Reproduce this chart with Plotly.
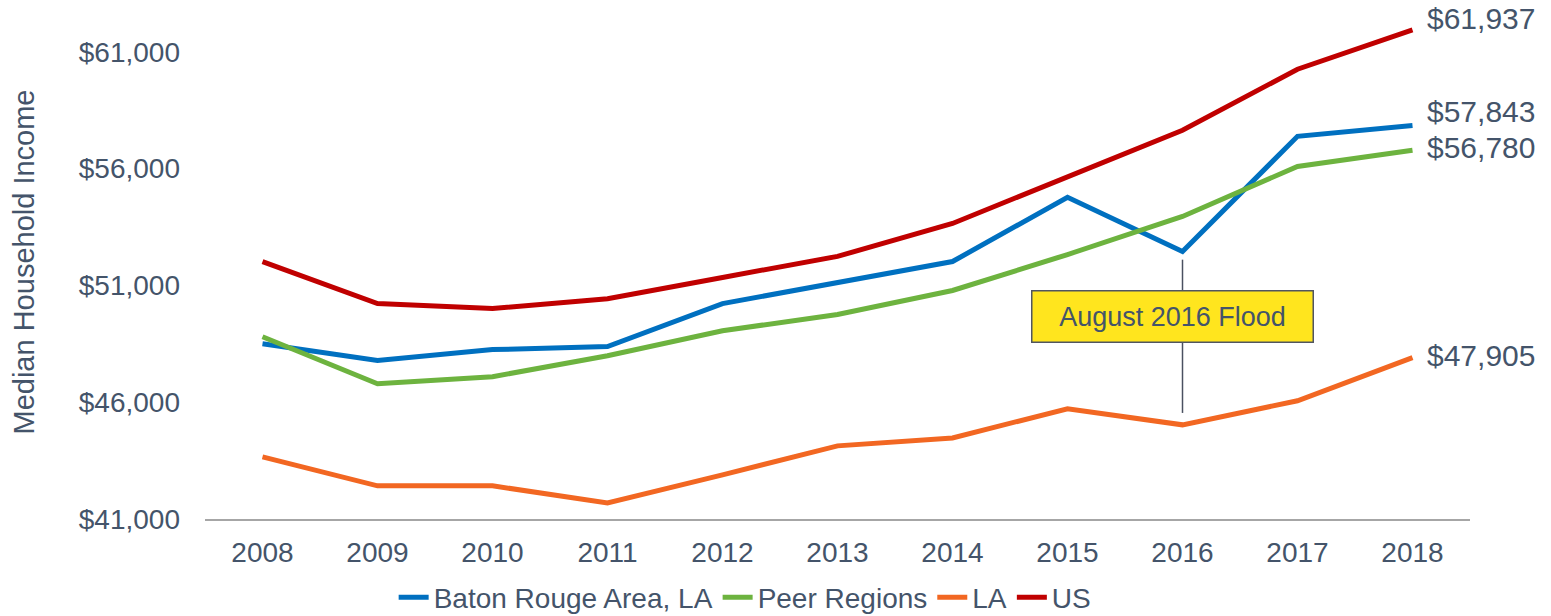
import plotly.graph_objects as go

years = ["2008", "2009", "2010", "2011", "2012", "2013", "2014", "2015", "2016", "2017", "2018"]
baton_rouge = [48500, 47780, 48250, 48380, 50220, 51120, 52020, 54770, 52450, 57380, 57843]
peer_regions = [48800, 46790, 47090, 47990, 49060, 49750, 50780, 52320, 53950, 56090, 56780]
louisiana = [43660, 42420, 42420, 41690, 42890, 44130, 44470, 45720, 45030, 46060, 47905]
us = [52020, 50220, 50010, 50430, 51340, 52240, 53650, 55670, 57640, 60250, 61937]

series_names = ["Baton Rouge Area, LA", "Peer Regions", "LA", "US"]
series_values = [baton_rouge, peer_regions, louisiana, us]
colors = ["#0070C0", "#6DB33F", "#F26722", "#C00000"]
end_label_yshift = [14, 3, 2, 11]

y_tick_vals = [41000, 46000, 51000, 56000, 61000]
y_tick_text = ["$41,000", "$46,000", "$51,000", "$56,000", "$61,000"]

flood_year = "2016"
flood_text = "August 2016 Flood"

TEXT = "#44546A"
FONT = "Liberation Sans, Arial, sans-serif"

last_idx = len(years) - 1
flood_idx = years.index(flood_year)

fig = go.Figure()
for name, vals, c in zip(series_names, series_values, colors):
    fig.add_trace(go.Scatter(x=years, y=vals, mode="lines", name=name,
                             line=dict(color=c, width=5), cliponaxis=False))

# end labels
for vals, ys in zip(series_values, end_label_yshift):
    fig.add_annotation(x=last_idx, y=vals[-1], text="${:,}".format(vals[-1]),
                       showarrow=False, xanchor="left", yanchor="middle",
                       xshift=12, yshift=ys,
                       font=dict(size=30, color=TEXT, family=FONT))

# flood marker line
fig.add_shape(type="line", x0=flood_idx, x1=flood_idx, y0=52100, y1=45540,
              xref="x", yref="y", line=dict(color="#4A5060", width=1.5))
fig.add_annotation(x=flood_idx, y=49650, text=flood_text, showarrow=False,
                   xshift=-10, bgcolor="#FFE51E", bordercolor="#505560",
                   borderwidth=1.5, borderpad=4, width=272, height=42,
                   align="center", valign="middle",
                   font=dict(size=27, color=TEXT, family=FONT))

fig.update_layout(
    width=1551, height=616,
    margin=dict(l=205, r=81, t=5, b=97, autoexpand=False),
    paper_bgcolor="white", plot_bgcolor="white",
    font=dict(family=FONT, color=TEXT, size=28),
    showlegend=True,
    legend=dict(orientation="h", x=0.427, xanchor="center", y=-0.104, yanchor="top",
                font=dict(size=28, color=TEXT), itemwidth=30, tracegroupgap=0,
                traceorder="normal"),
    xaxis=dict(type="category", range=[-0.5, 10.5], showgrid=False, automargin=False,
               showline=True, linecolor="#A6A6A6", linewidth=2,
               ticks="", ticklabelstandoff=7, tickfont=dict(size=28, color=TEXT),
               zeroline=False, fixedrange=True),
    yaxis=dict(range=[41000, 63000], showgrid=False, showline=False, zeroline=False,
               automargin=False,
               tickvals=y_tick_vals, ticktext=y_tick_text, ticks="",
               ticklabelstandoff=24, tickfont=dict(size=28, color=TEXT),
               title=dict(text="Median Household Income", font=dict(size=29, color=TEXT),
                          standoff=35)),
)

fig.write_html("out.html", config={"displayModeBar": False},
               post_script="document.body.style.margin='0';document.body.style.overflow='hidden';")
